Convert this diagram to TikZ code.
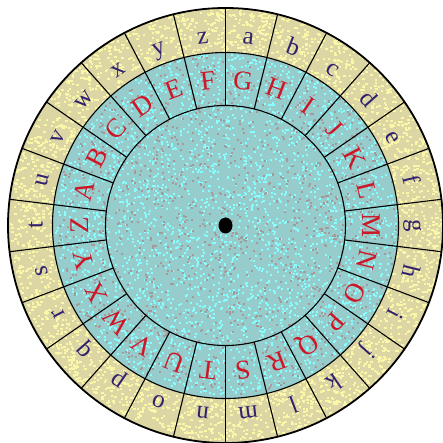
\documentclass[tikz,border=0pt]{standalone}
\usepackage{fontspec}
\setmainfont{Liberation Serif}
\definecolor{ringY}{RGB}{220,214,164}
\definecolor{ringYlight}{RGB}{250,248,168}
\definecolor{ringC}{RGB}{150,204,204}
\definecolor{diskC}{RGB}{154,202,202}
\definecolor{speckC}{RGB}{136,255,255}
\definecolor{speckG}{RGB}{164,154,154}
\definecolor{outerInk}{RGB}{48,32,110}
\definecolor{innerInk}{RGB}{205,22,38}
\tikzset{
  outerletter/.style={anchor=base,inner sep=0pt,text=outerInk,font=\fontsize{25}{25}\selectfont},
  innerletter/.style={anchor=base,inner sep=0pt,text=innerInk,font=\fontsize{27}{27}\selectfont},
  ringline/.style={line width=1.1pt,black},
}
\begin{document}
\begin{tikzpicture}[x=1pt,y=1pt]
\useasboundingbox (-225.5,-217.5) rectangle (217.5,225.5);
\fill[white] (-225.5,-217.5) rectangle (217.5,225.5);
\coordinate (O) at (0,0);
\fill[ringY] (O) circle (218);
\pgfmathsetseed{4711}
% speckle texture, yellow ring
\foreach \n in {1,...,2600}{
  \pgfmathsetmacro{\rr}{10*sqrt(17.3*17.3+(21.6*21.6-17.3*17.3)*rnd)}
  \pgfmathsetmacro{\aa}{360*rnd}
  \fill[ringYlight] (\aa:\rr) rectangle ++(2.5,2);
}
\fill[ringC] (O) circle (173);
% speckle texture, cyan parts
\foreach \n in {1,...,3000}{
  \pgfmathsetmacro{\rr}{171*sqrt(rnd)}
  \pgfmathsetmacro{\aa}{360*rnd}
  \fill[speckC] (\aa:\rr) rectangle ++(2,2);
}
\foreach \n in {1,...,1300}{
  \pgfmathsetmacro{\rr}{171*sqrt(rnd)}
  \pgfmathsetmacro{\aa}{360*rnd}
  \fill[speckG] (\aa:\rr) rectangle ++(2,2);
}
\foreach \k in {0,...,25}{
  \draw[ringline] (90+\k*360/26:120) -- (90+\k*360/26:218);
}
\draw[ringline] (O) circle (173);
\draw[ringline] (O) circle (120);
\draw[line width=1.8pt] (O) circle (217.5);
\foreach \l [count=\i from 0] in {a,b,c,d,e,f,g,h,i,j,k,l,m,n,o,p,q,r,s,t,u,v,w,x,y,z}{
  \pgfmathsetmacro{\ang}{90-360/52-\i*360/26}
  \node[outerletter,rotate=\ang-90] (o\i) at (\ang:183) {\l};
}
\foreach \L [count=\i from 0] in {G,H,I,J,K,L,M,N,O,P,Q,R,S,T,U,V,W,X,Y,Z,A,B,C,D,E,F}{
  \pgfmathsetmacro{\ang}{90-360/52-\i*360/26}
  \node[innerletter,rotate=\ang-90] (in\i) at (\ang:137) {\L};
}
\fill[black] (O) ellipse (7 and 8);
\end{tikzpicture}
\end{document}
